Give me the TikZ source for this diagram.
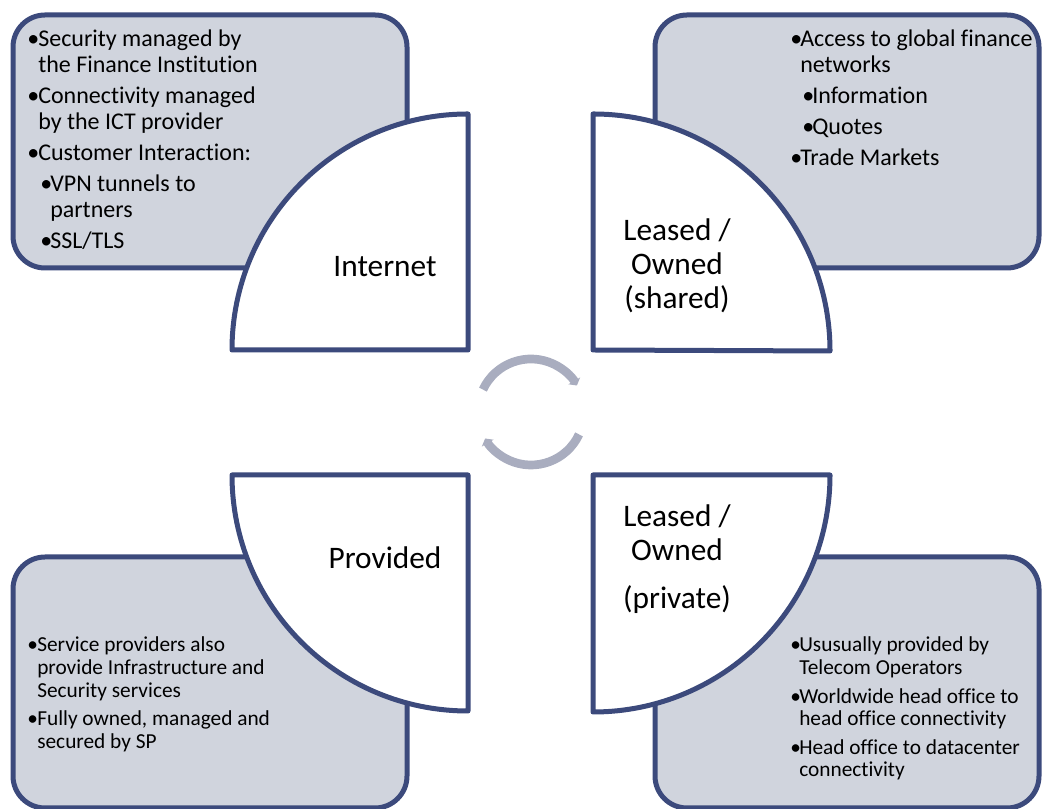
\documentclass[tikz,border=0pt]{standalone}
\usepackage{fontspec}
\setmainfont{Carlito}[Ligatures=CommonOff]
\usetikzlibrary{arrows.meta}
\definecolor{edge}{HTML}{3C4A7C}
\definecolor{boxfill}{HTML}{D0D4DD}
\definecolor{cyc}{HTML}{A9ADBF}
\newcommand\bitem[3][0pt]{\par\hangindent=\dimexpr#1+#2\relax\hangafter=1\noindent\hspace*{#1}\makebox[#2][l]{•}#3}
\newcommand\bigtxt{\fontsize{18}{19.5}\selectfont\setlength\parskip{3.75pt}}
\newcommand\smalltxt{\fontsize{16}{16.9}\selectfont\setlength\parskip{4.5pt}}
\newcommand\blist[2]{\vtop{\hsize=330pt\parindent=0pt\raggedright#1#2}}
\begin{document}
\begin{tikzpicture}[x=0.75pt,y=0.75pt,
  infobox/.style={draw=edge, fill=boxfill, line width=3.75pt, rounded corners=24pt},
  quarter/.style={draw=edge, fill=white, line width=3.75pt, line join=round},
  qlabel/.style={font=\fontsize{23.5}{25.5}\selectfont, align=center, inner sep=0},
  bullets/.style={anchor=base west, inner sep=0},
  cycarrow/.style={draw=cyc, line width=6.5pt, -{Triangle[length=4pt,width=10pt]}}]
\useasboundingbox (0,0) rectangle (1042,809);
% info boxes
\draw[infobox] (13,541) rectangle (407,794);
\draw[infobox] (655,541) rectangle (1039,794);
\draw[infobox] (13,1) rectangle (407,252);
\draw[infobox] (655,1) rectangle (1039,252);
% box texts
\node[bullets] (t1) at (27,762) {\blist{\bigtxt}{%
\bitem{8.25pt}{Security managed by\newline the Finance Institution}
\bitem{8.25pt}{Connectivity managed\newline by the ICT provider}
\bitem{8.25pt}{Customer Interaction:}
\bitem[9.75pt]{7.5pt}{VPN tunnels to\newline partners}
\bitem[9.75pt]{7.5pt}{SSL/TLS}}};
\node[bullets] (t2) at (790,762) {\blist{\bigtxt}{%
\bitem{7.5pt}{Access to global finance\newline networks}
\bitem[9pt]{7.5pt}{Information}
\bitem[9pt]{7.5pt}{Quotes}
\bitem{7.5pt}{Trade Markets}}};
\node[bullets] (t3) at (27,157) {\blist{\smalltxt}{%
\bitem{7.5pt}{Service providers also\newline provide Infrastructure and\newline Security services}
\bitem{7.5pt}{Fully owned, managed and\newline secured by SP}}};
\node[bullets] (t4) at (790,157) {\blist{\smalltxt}{%
\bitem{6.75pt}{Ususually provided by\newline Telecom Operators}
\bitem{6.75pt}{Worldwide head office to\newline head office connectivity}
\bitem{6.75pt}{Head office to datacenter\newline connectivity}}};
% quarter shapes
\draw[quarter] (468,459) -- (232,459) arc[start angle=180,end angle=90,radius=236] -- cycle;
\draw[quarter] (593,459) -- (593,695) arc[start angle=90,end angle=0,radius=237] -- cycle;
\draw[quarter] (468,334) -- (232,334) arc[start angle=180,end angle=270,radius=236] -- cycle;
\draw[quarter] (593,334) -- (830,334) arc[start angle=0,end angle=-90,radius=237] -- cycle;
% labels
\node[qlabel] (inet) at (385,542) {Internet};
\node[qlabel] (shared) at (677,543) {Leased /\\Owned\\(shared)};
\node[qlabel] (prov) at (385,251) {Provided};
\node[qlabel] (priv) at (677,250) {Leased /\\Owned\\[10pt](private)};
% cycle arrows
\coordinate (cc) at (531,397);
\draw[cycarrow] ([shift={(155:53)}]cc) arc[start angle=155,end angle=30,radius=53];
\draw[cycarrow] ([shift={(-25:53)}]cc) arc[start angle=-25,end angle=-150,radius=53];
\end{tikzpicture}
\end{document}
